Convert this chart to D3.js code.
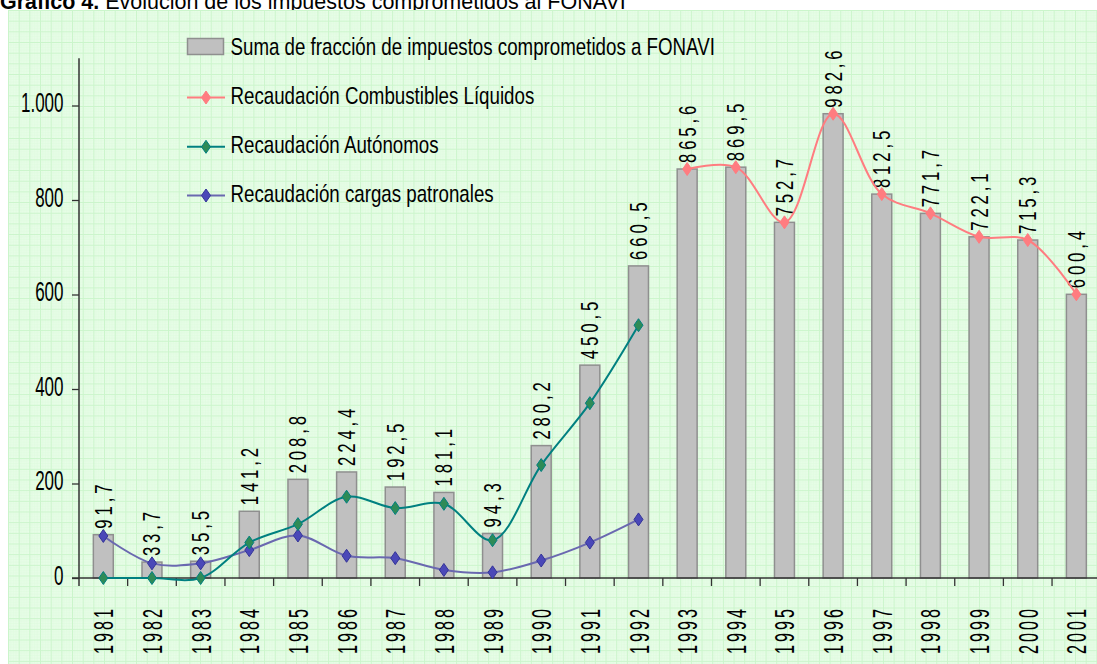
<!DOCTYPE html>
<html>
<head>
<meta charset="utf-8">
<script src="https://cdn.jsdelivr.net/npm/d3@7"></script>
<style>
  html, body { margin: 0; padding: 0; background: #ffffff; }
  svg { display: block; }
  text { font-family: "Liberation Sans", Arial, sans-serif; fill: #000; }
</style>
</head>
<body>
<svg id="chart" width="1097" height="664"></svg>
<script>
// ---------- DATA ----------
const years = ["1981","1982","1983","1984","1985","1986","1987","1988","1989","1990","1991","1992","1993","1994","1995","1996","1997","1998","1999","2000","2001"];
const totalValues = [91.7,33.7,35.5,141.2,208.8,224.4,192.5,181.1,94.3,280.2,450.5,660.5,865.6,869.5,752.7,982.6,812.5,771.7,722.1,715.3,600.4];
const combustiblesYears = ["1993","1994","1995","1996","1997","1998","1999","2000","2001"];
const combustiblesValues = [865.6,869.5,752.7,982.6,812.5,771.7,722.1,715.3,600.4];
const autonomosYears = ["1981","1982","1983","1984","1985","1986","1987","1988","1989","1990","1991","1992"];
const autonomosValues = [0,0,0,75,114,172,148,157,80,239,370,535];
const patronalesYears = ["1981","1982","1983","1984","1985","1986","1987","1988","1989","1990","1991","1992"];
const patronalesValues = [89,31,31,59,90,47,42,17,12,37,75,124];
const yTicks = [0,200,400,600,800,1000];
const yTickLabels = ["0","200","400","600","800","1.000"];
const legendLabels = ["Suma de fracción de impuestos comprometidos a FONAVI","Recaudación Combustibles Líquidos","Recaudación Autónomos","Recaudación cargas patronales"];
const titleBold = "Gráfico 4.";
const titleRest = " Evolución de los impuestos comprometidos al FONAVI";

// ---------- SETUP ----------
const svg = d3.select("#chart");
const W = 1097, H = 664;
const fmt = d3.formatLocale({decimal: ",", thousands: ".", grouping: [3], currency: ["", ""]}).format(".1f");

// title (drawn first; panel overlaps its lower part, as in the reference)
const title = svg.append("text").attr("x", 0).attr("y", 8.5).style("font-size", "21.5px");
title.append("tspan").style("font-weight", "bold").text(titleBold);
title.append("tspan").text(titleRest);

// background pattern
const defs = svg.append("defs");
const pat = defs.append("pattern").attr("id", "grid").attr("patternUnits", "userSpaceOnUse")
  .attr("x", 8).attr("y", 10).attr("width", 10.67).attr("height", 10.67);
pat.append("rect").attr("width", 10.67).attr("height", 10.67).attr("fill", "#e7fde7");
[2.67, 5.33, 8].forEach(p => {
  pat.append("line").attr("x1", p).attr("x2", p).attr("y1", 0).attr("y2", 10.67).attr("stroke", "#dcfadc").attr("stroke-width", 0.5);
  pat.append("line").attr("y1", p).attr("y2", p).attr("x1", 0).attr("x2", 10.67).attr("stroke", "#dcfadc").attr("stroke-width", 0.5);
});
pat.append("line").attr("x1", 0.5).attr("x2", 0.5).attr("y1", 0).attr("y2", 10.67).attr("stroke", "#cbf5cb").attr("stroke-width", 1);
pat.append("line").attr("y1", 0.5).attr("y2", 0.5).attr("x1", 0).attr("x2", 10.67).attr("stroke", "#cbf5cb").attr("stroke-width", 1);
svg.append("rect").attr("x", 8).attr("y", 10).attr("width", W - 8).attr("height", H - 10).attr("fill", "url(#grid)");

// scales
const x = d3.scaleBand().domain(years).range([79, 1100.7]).paddingInner(0.59).paddingOuter(0.295);
const step = x.step();
const cx = d => x(d) + x.bandwidth() / 2;
const y = d3.scaleLinear().domain([0, 1000]).range([578, 105.5]);
const yTop = y(1100);

// helper for condensed / rotated text
function sText(parent, px, py, str, o) {
  const g = parent.append("g").attr("transform", `translate(${px},${py}) rotate(${o.rotate || 0}) scale(${o.sx},1)`);
  return g.append("text").attr("text-anchor", o.anchor || "start")
    .style("font-size", o.size + "px").style("letter-spacing", (o.spacing || 0) + "px").text(str);
}

// bars
svg.append("g").selectAll("rect").data(years).join("rect")
  .attr("x", d => x(d)).attr("width", x.bandwidth())
  .attr("y", (d, i) => y(totalValues[i])).attr("height", (d, i) => y(0) - y(totalValues[i]))
  .attr("fill", "#c0c0c0").attr("stroke", "#8f8f8f").attr("stroke-width", 1.5);

// axes
const axisColor = "#333";
const yAxis = d3.axisLeft(y).tickValues(yTicks).tickSize(7).tickFormat(() => "");
const gy = svg.append("g").attr("transform", "translate(79,0)").call(yAxis);
gy.select(".domain").remove();
gy.selectAll(".tick line").attr("stroke", axisColor).attr("stroke-width", 1.3);
svg.append("line").attr("x1", 79).attr("x2", 79).attr("y1", yTop).attr("y2", y(0) + 8).attr("stroke", axisColor).attr("stroke-width", 1.5);
svg.append("line").attr("x1", 72).attr("x2", W).attr("y1", y(0)).attr("y2", y(0)).attr("stroke", axisColor).attr("stroke-width", 1.5);
// category boundary ticks
const bounds = years.map(d => x(d) + x.bandwidth() / 2 + step / 2);
svg.append("g").selectAll("line").data(bounds).join("line")
  .attr("x1", d => d).attr("x2", d => d).attr("y1", y(0)).attr("y2", y(0) + 8)
  .attr("stroke", axisColor).attr("stroke-width", 1.3);

// y tick labels
const yl = svg.append("g");
yTicks.forEach((t, i) => sText(yl, 63.5, y(t) + 6.5, yTickLabels[i], {size: 27, sx: 0.63, anchor: "end"}));

// x labels (years)
const xl = svg.append("g");
years.forEach(d => sText(xl, cx(d) + 10, 606, d, {size: 27, sx: 0.6, anchor: "end", rotate: -90, spacing: 5}));

// data labels
const dl = svg.append("g");
years.forEach((d, i) => sText(dl, cx(d) + 8.5, y(totalValues[i]) - 6, fmt(totalValues[i]), {size: 24, sx: 0.7, anchor: "start", rotate: -90, spacing: 5.5}));

// lines
const curve = d3.curveCatmullRom.alpha(0.5);
function drawSeries(ys, vs, lineColor, fillColor, strokeColor) {
  const pts = ys.map((d, i) => [cx(d), y(vs[i])]);
  svg.append("path").attr("d", d3.line().curve(curve)(pts)).attr("fill", "none")
    .attr("stroke", lineColor).attr("stroke-width", 2);
  svg.append("g").selectAll("path").data(pts).join("path")
    .attr("d", p => `M${p[0]},${p[1] - 6.5}L${p[0] + 4.5},${p[1]}L${p[0]},${p[1] + 6.5}L${p[0] - 4.5},${p[1]}Z`)
    .attr("fill", fillColor).attr("stroke", strokeColor).attr("stroke-width", 1);
}
const seriesStyles = [
  {line: "#ff7c80", fill: "#ff7c80", stroke: "#ff7c80"},
  {line: "#008080", fill: "#2e8b57", stroke: "#008080"},
  {line: "#6a68b0", fill: "#4b48b8", stroke: "#333399"}
];
drawSeries(patronalesYears, patronalesValues, seriesStyles[2].line, seriesStyles[2].fill, seriesStyles[2].stroke);
drawSeries(autonomosYears, autonomosValues, seriesStyles[1].line, seriesStyles[1].fill, seriesStyles[1].stroke);
drawSeries(combustiblesYears, combustiblesValues, seriesStyles[0].line, seriesStyles[0].fill, seriesStyles[0].stroke);

// legend
const lg = svg.append("g");
const rowBase = [54.5, 104, 153.3, 202];
lg.append("rect").attr("x", 187.5).attr("y", 38.5).attr("width", 36).attr("height", 16)
  .attr("fill", "#c0c0c0").attr("stroke", "#8f8f8f").attr("stroke-width", 1.5);
[1, 2, 3].forEach(k => {
  const s = seriesStyles[k - 1];
  const ly = rowBase[k] - 6.5;
  lg.append("line").attr("x1", 187).attr("x2", 225).attr("y1", ly).attr("y2", ly).attr("stroke", s.line).attr("stroke-width", 2);
  lg.append("path").attr("d", `M206,${ly - 6.5}L210.5,${ly}L206,${ly + 6.5}L201.5,${ly}Z`)
    .attr("fill", s.fill).attr("stroke", s.stroke).attr("stroke-width", 1);
});
legendLabels.forEach((t, i) => sText(lg, 230.5, rowBase[i], t, {size: 24, sx: 0.78, anchor: "start"}));
</script>
</body>
</html>
